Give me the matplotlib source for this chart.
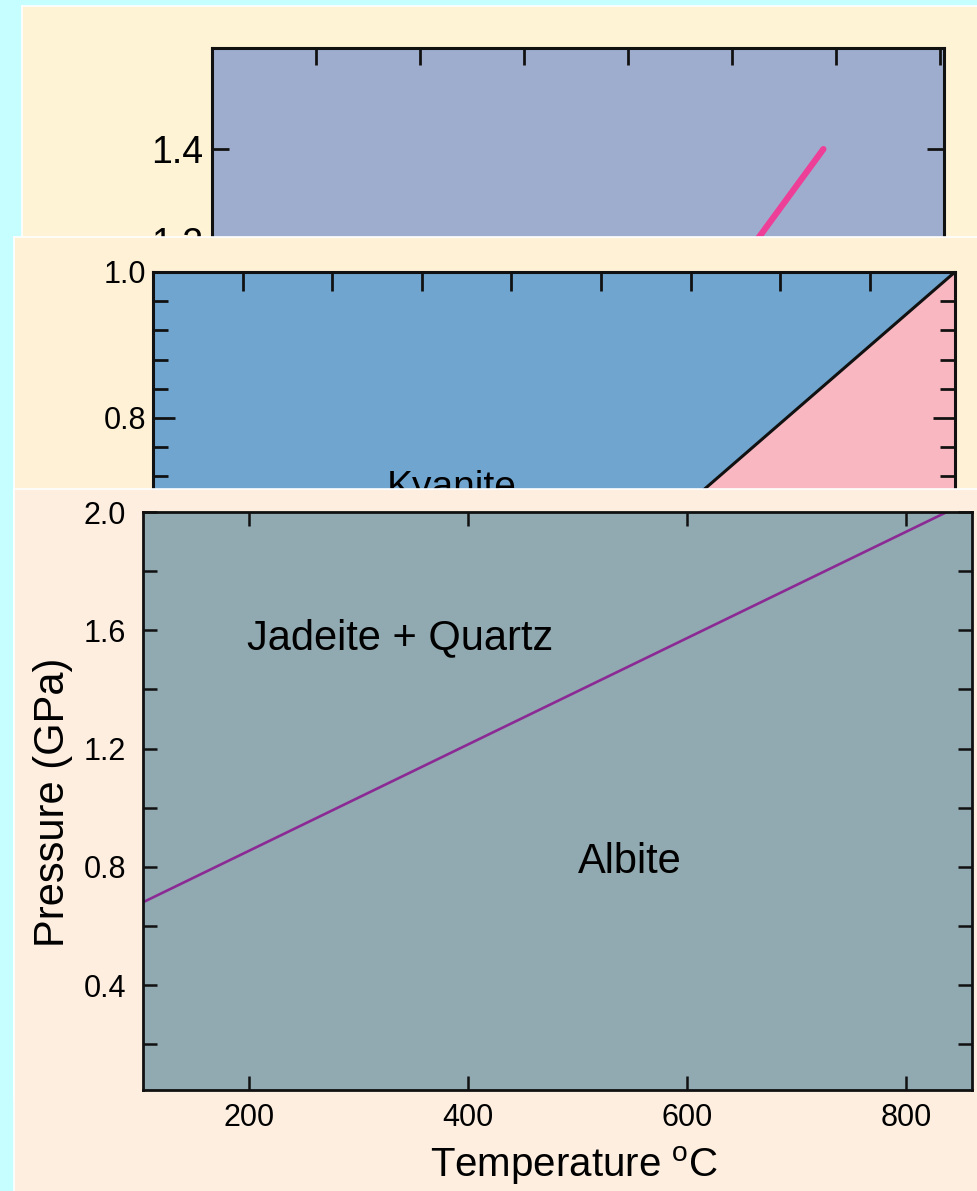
import numpy as np
import matplotlib
matplotlib.use("Agg")
import matplotlib.pyplot as plt
from matplotlib.ticker import MultipleLocator

plt.rcParams['font.family'] = ['Liberation Sans', 'DejaVu Sans']
plt.rcParams['mathtext.fontset'] = 'custom'
plt.rcParams['mathtext.rm'] = 'Liberation Sans'

W, H = 978, 1191

# top slide: partly hidden phase boundary
top_T = [491, 588]
top_P = [1.1, 1.4]

# middle slide: kyanite / sillimanite boundary
mid_T = [519, 895]
mid_P = [0.6, 1.0]

# front slide: jadeite + quartz = albite
jd_T = [103, 837]
jd_P = [0.68, 2.0]
front_xticks = [200, 400, 600, 800]
front_yticks = [0.4, 0.8, 1.2, 1.6, 2.0]


def box(left, top, right, bottom):
    return [left / W, 1 - bottom / H, (right - left) / W, (bottom - top) / H]


def card(rect, color, z):
    c = fig.add_axes(box(*rect), zorder=z)
    c.set_facecolor(color)
    c.set_xticks([])
    c.set_yticks([])
    for s in c.spines.values():
        s.set_color('#ffffff')
        s.set_linewidth(1.2)
    return c


def style(ax, lw, size, labelsize, pad):
    for s in ax.spines.values():
        s.set_linewidth(lw)
        s.set_color('#111111')
    ax.tick_params(which='both', direction='in', top=True, right=True,
                   width=lw * 0.9, color='#111111', labelsize=labelsize, pad=pad)
    ax.tick_params(which='major', length=size)
    ax.tick_params(which='minor', length=size)


fig = plt.figure(figsize=(W / 100, H / 100), dpi=100)
fig.patch.set_facecolor('#c6feff')

# ---- slide 1 (back)
card((22, 6, 1000, 700), '#fff3d6', 1)
ax1 = fig.add_axes(box(212, 48, 944, 287), zorder=2)
ax1.set_facecolor('#9eadcd')
ax1.plot(top_T, top_P, color='#ee3f98', lw=4.5, solid_capstyle='round')
ax1.set_xlim(0, 704)
ax1.set_ylim(1.1, 1.62)
ax1.xaxis.set_major_locator(MultipleLocator(100))
ax1.set_yticks([1.2, 1.4])
ax1.set_yticklabels(['1.2', '1.4'])
style(ax1, 2.2, 12, 27, 6)
ax1.tick_params(labelbottom=False)

# ---- slide 2 (middle)
card((14, 237, 1000, 1100), '#fef1d6', 3)
ax2 = fig.add_axes(box(153, 272, 955, 564), zorder=4)
ax2.set_facecolor('#6fa5ce')
Pf = np.array(mid_P)
ax2.fill_betweenx(Pf, mid_T, 895, color='#f9b8c1', lw=0)
ax2.plot(mid_T, mid_P, color='#111111', lw=2.2)
ax2.text(261, 0.69, 'Kyanite', fontsize=28, ha='left', va='baseline')
ax2.set_xlim(0, 895)
ax2.set_ylim(0.6, 1.0)
ax2.xaxis.set_major_locator(MultipleLocator(100))
ax2.yaxis.set_major_locator(MultipleLocator(0.2))
ax2.yaxis.set_minor_locator(MultipleLocator(0.04))
ax2.yaxis.set_major_formatter(matplotlib.ticker.FormatStrFormatter('%.1f'))
style(ax2, 2.2, 11, 22, 5)
ax2.tick_params(axis='y', which='major', length=16)
ax2.tick_params(axis='x', which='major', length=14)
ax2.tick_params(labelbottom=False)

# ---- slide 3 (front)
card((14, 489, 1000, 1220), '#fdeee0', 5)
ax3 = fig.add_axes(box(143, 512, 972, 1090), zorder=6)
ax3.set_facecolor('#91a9b0')
ax3.plot(jd_T, jd_P, color='#8b2a94', lw=1.9)
ax3.text(198, 1.537, 'Jadeite + Quartz', fontsize=30, ha='left', va='baseline')
ax3.text(500, 0.779, 'Albite', fontsize=30, ha='left', va='baseline')
ax3.set_xlim(103, 860)
ax3.set_ylim(0.045, 2.0)
ax3.set_xticks(front_xticks)
ax3.set_yticks(front_yticks)
ax3.set_yticklabels(['%.1f' % v for v in front_yticks])
ax3.yaxis.set_minor_locator(MultipleLocator(0.2))
style(ax3, 2.0, 10, 22, 9)
ax3.tick_params(axis='y', pad=12)
ax3.set_xlabel('Temperature $^{\\mathrm{o}}$C', fontsize=29)
ax3.xaxis.set_label_coords(0.52, -0.13)
ax3.xaxis.label.set_va('center')
ax3.set_ylabel('Pressure (GPa)', fontsize=30)
ax3.yaxis.set_label_coords(-0.108, 0.498)
ax3.yaxis.label.set_va('center')

fig.savefig('out.png', dpi=100, facecolor=fig.get_facecolor())
